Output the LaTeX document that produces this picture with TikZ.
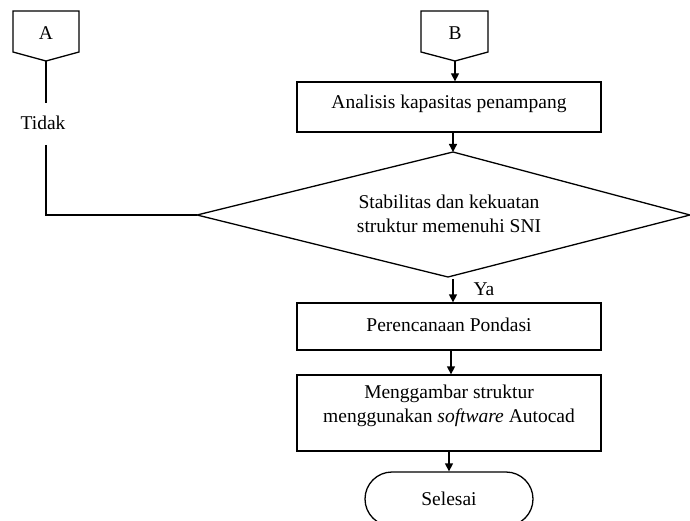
\documentclass[tikz,border=0pt]{standalone}
\usepackage{fontspec}
\setmainfont{Liberation Serif}
\usetikzlibrary{arrows.meta,shapes.misc}
\begin{document}
\begin{tikzpicture}[x=1pt,y=-1pt,
  font=\fontsize{19.5}{24}\selectfont,
  line width=1.3pt,
  arr/.style={-{Triangle[length=8pt,width=8pt]}},
  procbox/.style={draw,rectangle,minimum width=304pt,inner sep=0pt},
  term/.style={draw,rounded rectangle,minimum width=168pt,minimum height=54pt,inner sep=0pt}]
\useasboundingbox (0,0) rectangle (690,521);
% off-page connectors
\draw (13,11) -- (79,11) -- (79,52) -- (46,61) -- (13,52) -- cycle;
\coordinate (Ap) at (46,61);
\node at (46,33) {A};
\draw (421,11) -- (488,11) -- (488,52) -- (455,61) -- (421,52) -- cycle;
\coordinate (Bp) at (455,61);
\node at (455,33) {B};
% boxes
\node[procbox,minimum height=50pt] (an) at (449,107) {};
\node at ([yshift=3pt]an.center) {Analisis kapasitas penampang};
% diamond
\coordinate (dt) at (453,152);
\coordinate (dl) at (197,215);
\coordinate (dr) at (690,215);
\coordinate (db) at (448,277);
\draw (dt) -- (dr) -- (db) -- (dl) -- cycle;
\node[align=center] (dtext) at (449,214) {Stabilitas dan kekuatan\\struktur memenuhi SNI};
\node[procbox,minimum height=47pt] (pp) at (449,326.5) {};
\node at ([yshift=2pt]pp.center) {Perencanaan Pondasi};
\node[procbox,minimum height=76pt] (mg) at (449,413) {};
\node[align=center] at ([yshift=7pt]mg.center) {Menggambar struktur\\menggunakan \textit{software} Autocad};
\node[term] (sl) at (449,499) {Selesai};
% Tidak branch
\node (tidak) at (43,123) {Tidak};
\coordinate (corner) at (46,215);
\draw (Ap) -- (46,103);
\draw (46,145) -- (corner) -- (dl);
% arrows
\draw[arr] (Bp) -- (an.north -| Bp);
\draw[arr] (an.south -| dt) -- (dt);
\draw[arr] (db -| dt) ++(0,2) -- (pp.north -| dt);
\node at (484,289) {Ya};
\draw[arr] (pp.south -| 451,0) -- (mg.north -| 451,0);
\draw[arr] (mg.south -| 449,0) -- (sl.north);
\end{tikzpicture}
\end{document}
